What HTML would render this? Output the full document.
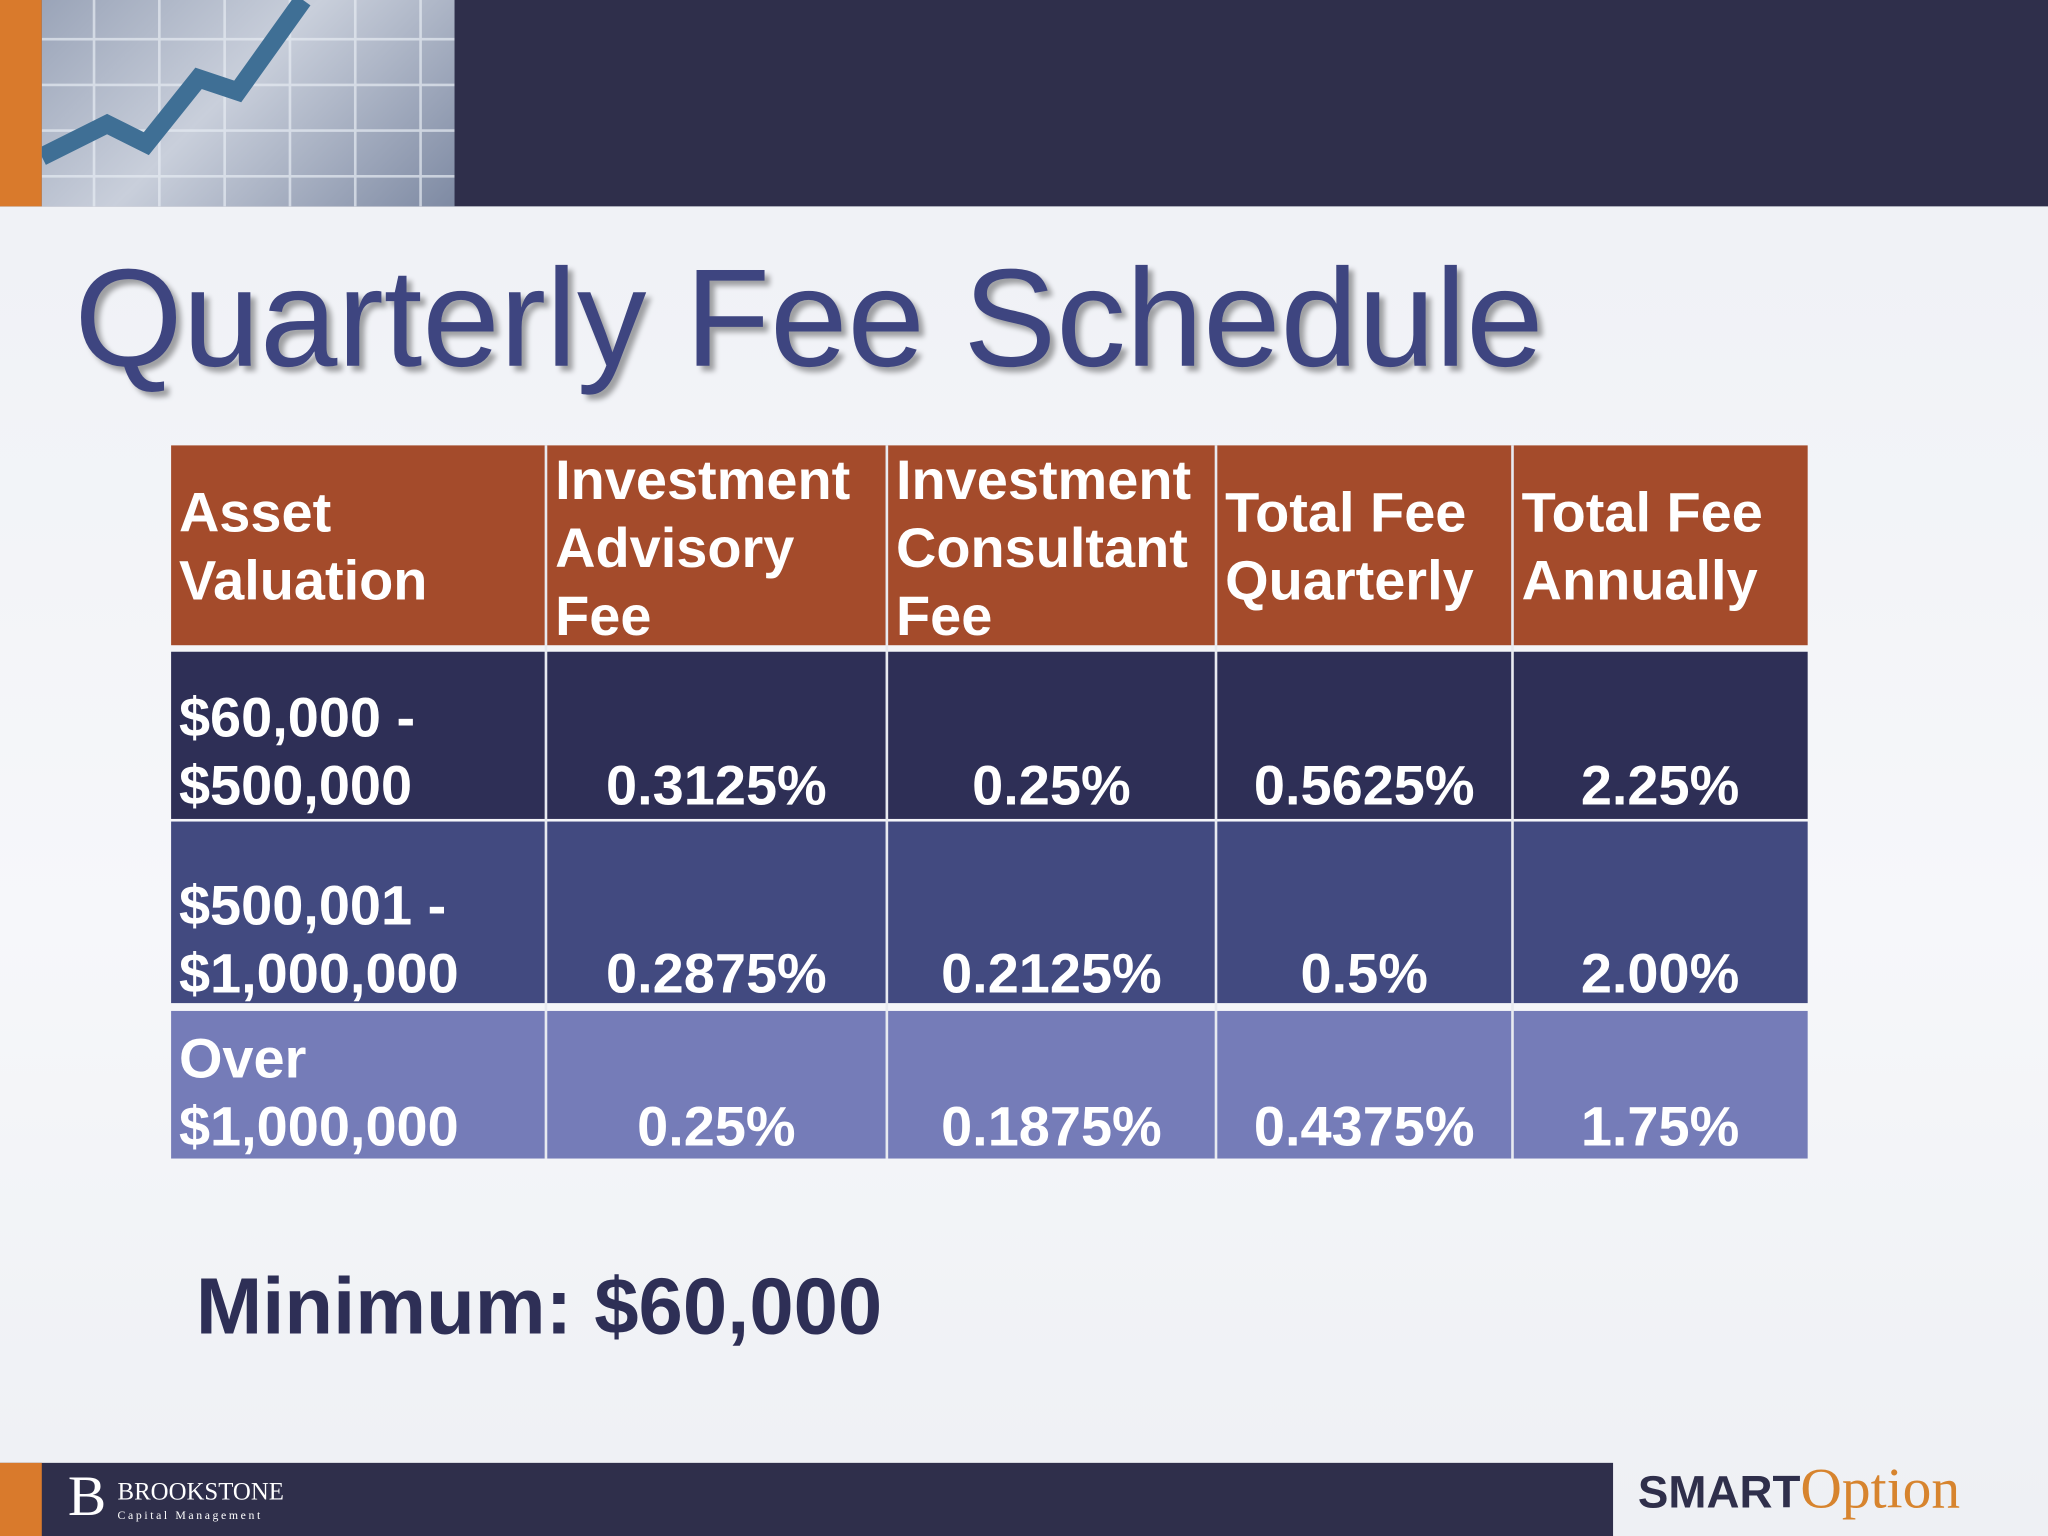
<!DOCTYPE html>
<html><head><meta charset="utf-8"><style>
html,body{margin:0;padding:0;width:2048px;height:1536px;overflow:hidden;background:#f1f2f6;}
#s{position:absolute;left:0;top:0;width:1568px;height:1176px;transform:scale(1.306122);transform-origin:0 0;font-family:"Liberation Sans",sans-serif;background:linear-gradient(180deg,#eef0f5 0%,#f6f7fa 60%,#eef0f4 100%);overflow:hidden;}
.abs{position:absolute;}
.c{position:absolute;color:#fff;font-weight:bold;font-size:42.8px;line-height:52px;box-sizing:border-box;white-space:nowrap;}
</style></head><body>
<div id="s">
  <div class="abs" style="left:0;top:0;width:1568px;height:158px;background:#2f2f4b;"></div>
  <div class="abs" style="left:0;top:0;width:32px;height:158px;background:#d97a2c;"></div>
  <div class="abs" style="left:32px;top:0;width:316px;height:158px;background:linear-gradient(135deg,#9aa4b8 0%,#c9cfdb 45%,#7e8aa3 100%);overflow:hidden;">
    <svg width="316" height="158" style="position:absolute;left:0;top:0">
      <g stroke="#e6ebf2" stroke-width="2" opacity="0.7">
        <line x1="0" y1="30" x2="316" y2="30"/><line x1="0" y1="65" x2="316" y2="65"/><line x1="0" y1="100" x2="316" y2="100"/><line x1="0" y1="135" x2="316" y2="135"/>
        <line x1="40" y1="0" x2="40" y2="158"/><line x1="90" y1="0" x2="90" y2="158"/><line x1="140" y1="0" x2="140" y2="158"/><line x1="190" y1="0" x2="190" y2="158"/><line x1="240" y1="0" x2="240" y2="158"/><line x1="290" y1="0" x2="290" y2="158"/>
      </g>
      <polyline points="0,120 50,95 80,110 120,60 150,70 200,0" fill="none" stroke="#3f6f95" stroke-width="14"/>
    </svg>
  </div>
  <div class="abs" style="left:57px;top:184px;font-size:106.5px;line-height:120px;color:#3e4580;text-shadow:4px 4px 4px rgba(0,0,0,0.35);white-space:nowrap;">Quarterly Fee Schedule</div>

  <div>
    <div class="abs" style="left:131px;top:341px;width:1253px;height:153px;background:#a44b2b;"></div>
    <div class="abs" style="left:131px;top:499px;width:1253px;height:128px;background:#2e2f56;"></div>
    <div class="abs" style="left:131px;top:629px;width:1253px;height:139px;background:#424a80;"></div>
    <div class="abs" style="left:131px;top:774px;width:1253px;height:113px;background:#757cb8;"></div>
    <div class="abs" style="left:417px;top:341px;width:2px;height:546px;background:#e8eaf0;"></div>
    <div class="abs" style="left:678px;top:341px;width:2px;height:546px;background:#e8eaf0;"></div>
    <div class="abs" style="left:930px;top:341px;width:2px;height:546px;background:#e8eaf0;"></div>
    <div class="abs" style="left:1157px;top:341px;width:2px;height:546px;background:#e8eaf0;"></div>

    <div class="c" style="left:137px;top:367px;">Asset<br>Valuation</div>
    <div class="c" style="left:425px;top:342px;">Investment<br>Advisory<br>Fee</div>
    <div class="c" style="left:686px;top:342px;">Investment<br>Consultant<br>Fee</div>
    <div class="c" style="left:938px;top:367px;">Total Fee<br>Quarterly</div>
    <div class="c" style="left:1165px;top:367px;">Total Fee<br>Annually</div>

    <div class="c" style="left:137px;top:524px;">$60,000 -<br>$500,000</div>
    <div class="c" style="left:418px;width:261px;text-align:center;top:576px;">0.3125%</div>
    <div class="c" style="left:679px;width:252px;text-align:center;top:576px;">0.25%</div>
    <div class="c" style="left:931px;width:227px;text-align:center;top:576px;">0.5625%</div>
    <div class="c" style="left:1158px;width:226px;text-align:center;top:576px;">2.25%</div>

    <div class="c" style="left:137px;top:668px;">$500,001 -<br>$1,000,000</div>
    <div class="c" style="left:418px;width:261px;text-align:center;top:720px;">0.2875%</div>
    <div class="c" style="left:679px;width:252px;text-align:center;top:720px;">0.2125%</div>
    <div class="c" style="left:931px;width:227px;text-align:center;top:720px;">0.5%</div>
    <div class="c" style="left:1158px;width:226px;text-align:center;top:720px;">2.00%</div>

    <div class="c" style="left:137px;top:785px;">Over<br>$1,000,000</div>
    <div class="c" style="left:418px;width:261px;text-align:center;top:837px;">0.25%</div>
    <div class="c" style="left:679px;width:252px;text-align:center;top:837px;">0.1875%</div>
    <div class="c" style="left:931px;width:227px;text-align:center;top:837px;">0.4375%</div>
    <div class="c" style="left:1158px;width:226px;text-align:center;top:837px;">1.75%</div>
  </div>

  <div class="abs" style="left:150px;top:964px;font-size:61px;line-height:72px;font-weight:bold;color:#2e2f56;white-space:nowrap;">Minimum: $60,000</div>

  <div class="abs" style="left:0;top:1120px;width:1235px;height:56px;background:#2f2f4b;"></div>
  <div class="abs" style="left:0;top:1120px;width:32px;height:56px;background:#d97a2c;"></div>
  <div class="abs" style="left:52px;top:1124px;color:#fff;font-family:'Liberation Serif',serif;">
    <span style="position:absolute;left:0;top:0;font-size:44px;line-height:44px;">B</span>
    <span style="position:absolute;left:38px;top:8px;font-size:19px;white-space:nowrap;">BROOKSTONE</span>
    <span style="position:absolute;left:38px;top:31px;font-size:9px;letter-spacing:2px;white-space:nowrap;">Capital Management</span>
  </div>
  <div class="abs" style="left:1254px;top:1114px;white-space:nowrap;">
    <span style="font-family:'Liberation Sans',sans-serif;font-weight:bold;font-size:35px;color:#2f2f4b;">SMART</span><span style="font-family:'Liberation Serif',serif;font-size:44px;color:#d7842e;">Option</span>
  </div>
</div>
</body></html>
